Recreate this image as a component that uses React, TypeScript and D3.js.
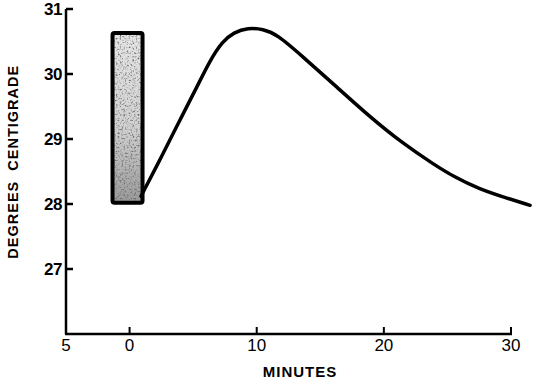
import React from "react";
import * as d3 from "d3";

const minutes = [0.9, 2.6, 3.9, 5.3, 6.3, 7.3, 8.2, 9.3, 10.5, 11.6, 13.6, 16.3, 18.9, 21.5, 24.0, 25.5, 27.5, 29.5, 31.5];
const degrees = [28.12, 28.76, 29.27, 29.8, 30.2, 30.5, 30.64, 30.71, 30.69, 30.61, 30.27, 29.8, 29.34, 28.93, 28.6, 28.42, 28.23, 28.1, 27.98];
const xTicks = [-5, 0, 10, 20, 30];
const xTickLabels = ["5", "0", "10", "20", "30"];
const yTicks = [27, 28, 29, 30, 31];
const yTickLabels = ["27", "28", "29", "30", "31"];
const stimulusX = [-1.34, 1.02];
const stimulusY = [28.02, 30.63];

const W = 535;
const H = 379;
const FONT = "'Liberation Sans', Arial, sans-serif";

export default function App() {
  const x = d3.scaleLinear().domain([-5, 30]).range([66, 511]);
  const y = d3.scaleLinear().domain([26, 31]).range([334, 9]);
  const pts = minutes.map((m, i) => [m, degrees[i]] as [number, number]);
  const line = d3
    .line<[number, number]>()
    .x((d) => x(d[0]))
    .y((d) => y(d[1]))
    .curve(d3.curveBasis);

  const rx0 = x(stimulusX[0]);
  const ry0 = y(stimulusY[1]);
  const rw = x(stimulusX[1]) - x(stimulusX[0]);
  const rh = y(stimulusY[0]) - y(stimulusY[1]);

  return (
    <svg
      width={W}
      height={H}
      style={{ position: "absolute", left: 0, top: 0, background: "#fff" }}
    >
      <defs>
        <linearGradient id="shade" x1="0" y1="0" x2="0" y2="1">
          <stop offset="0" stopColor="#e6e6e6" />
          <stop offset="0.55" stopColor="#d2d2d2" />
          <stop offset="1" stopColor="#9a9a9a" />
        </linearGradient>
        <filter id="stipple" x="0" y="0" width="1" height="1">
          <feTurbulence type="fractalNoise" baseFrequency="0.55" numOctaves="2" seed="7" result="noise" />
          <feColorMatrix
            in="noise"
            type="matrix"
            values="0 0 0 0 0.15  0 0 0 0 0.15  0 0 0 0 0.15  0 0 0 -3 1.55"
            result="dots"
          />
          <feComposite in="dots" in2="SourceGraphic" operator="in" result="dotsIn" />
          <feMerge>
            <feMergeNode in="SourceGraphic" />
            <feMergeNode in="dotsIn" />
          </feMerge>
        </filter>
      </defs>

      {/* stimulus bar */}
      <rect x={rx0} y={ry0} width={rw} height={rh} fill="url(#shade)" filter="url(#stipple)" />
      <rect x={rx0} y={ry0} width={rw} height={rh} fill="none" stroke="#000" strokeWidth={4} rx={2} />

      {/* curve */}
      <path d={line(pts) ?? ""} fill="none" stroke="#000" strokeWidth={3.5} strokeLinecap="round" />

      {/* axes */}
      <line x1={x(-5)} x2={x(-5)} y1={y(31)} y2={y(26)} stroke="#000" strokeWidth={2.5} />
      <line x1={x(-5) - 1} x2={x(30) + 1} y1={y(26)} y2={y(26)} stroke="#000" strokeWidth={2.5} />

      {yTicks.map((t, i) => (
        <g key={"y" + t}>
          <line x1={x(-5)} x2={x(-5) + 7} y1={y(t)} y2={y(t)} stroke="#000" strokeWidth={2.5} />
          <text
            x={62}
            y={y(t) + 6}
            textAnchor="end"
            fontFamily={FONT}
            fontWeight="bold"
            fontSize={17}
            fill="#000"
            letterSpacing={-0.5}
          >
            {yTickLabels[i]}
          </text>
        </g>
      ))}

      {xTicks.map((t, i) => (
        <g key={"x" + t}>
          {t > -5 && (
            <line x1={x(t)} x2={x(t)} y1={y(26)} y2={y(26) - 7} stroke="#000" strokeWidth={2} />
          )}
          <text x={x(t)} y={351} textAnchor="middle" fontFamily={FONT} fontSize={17} fill="#000">
            {xTickLabels[i]}
          </text>
        </g>
      ))}

      <text
        x={300}
        y={377}
        textAnchor="middle"
        fontFamily={FONT}
        fontWeight="bold"
        fontSize={15}
        letterSpacing={1}
        fill="#000"
      >
        MINUTES
      </text>
      <text
        transform={`translate(18, ${y(28.65)}) rotate(-90)`}
        textAnchor="middle"
        fontFamily={FONT}
        fontWeight="bold"
        fontSize={14.5}
        letterSpacing={1}
        fill="#000"
        xmlSpace="preserve"
      >
        {"DEGREES  CENTIGRADE"}
      </text>
    </svg>
  );
}
